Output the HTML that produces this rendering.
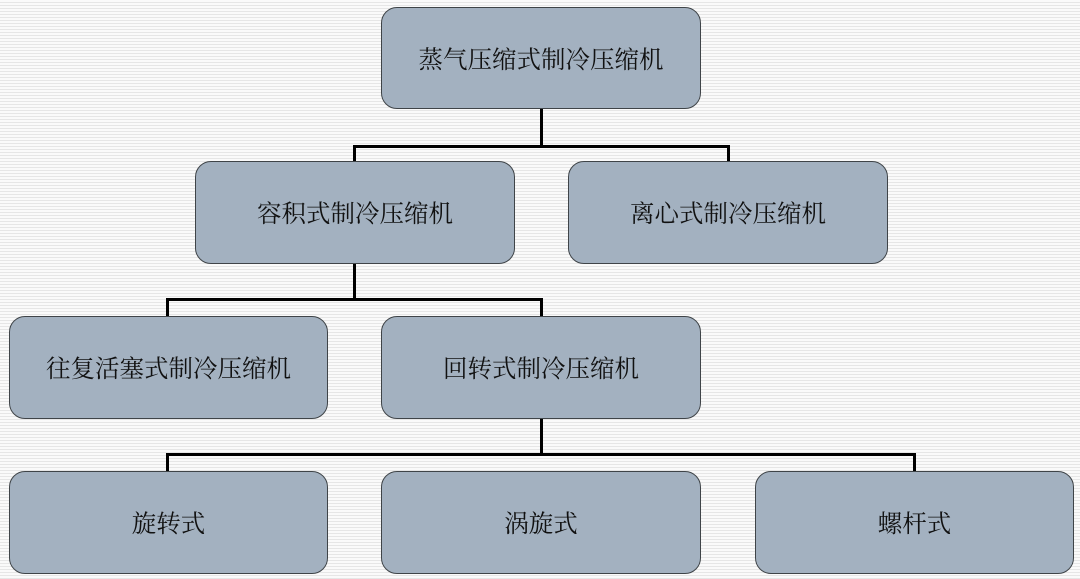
<!DOCTYPE html>
<html><head><meta charset="utf-8"><style>
body{margin:0;width:1080px;height:579px;overflow:hidden;position:relative;
background:repeating-linear-gradient(to bottom,#fafafa 0,#fafafa 2px,#e6e6e6 2px,#e6e6e6 3px);
font-family:"Liberation Serif","Noto Serif CJK SC",serif;}
.b{position:absolute;width:317px;height:100px;background:#a3b1c0;border:1.5px solid #3f4448;border-radius:16px;box-sizing:border-box;display:flex;align-items:center;justify-content:center;font-size:24.5px;color:#111;}
.l{position:absolute;background:#000;}
</style></head><body>
<div class="l" style="left:540px;top:107px;width:3px;height:41px"></div>
<div class="l" style="left:353px;top:145px;width:377px;height:3px"></div>
<div class="l" style="left:353px;top:145px;width:3px;height:17px"></div>
<div class="l" style="left:727px;top:145px;width:3px;height:17px"></div>
<div class="l" style="left:353px;top:262px;width:3px;height:38px"></div>
<div class="l" style="left:166px;top:298px;width:377px;height:3px"></div>
<div class="l" style="left:166px;top:298px;width:3px;height:19px"></div>
<div class="l" style="left:540px;top:298px;width:3px;height:19px"></div>
<div class="l" style="left:540px;top:417px;width:3px;height:38px"></div>
<div class="l" style="left:166px;top:453px;width:750px;height:3px"></div>
<div class="l" style="left:166px;top:453px;width:3px;height:19px"></div>
<div class="l" style="left:913px;top:453px;width:3px;height:19px"></div>
<div class="b" style="left:381px;top:7px;height:102px;width:320px">蒸气压缩式制冷压缩机</div>
<div class="b" style="left:195px;top:161px;height:103px;width:320px">容积式制冷压缩机</div>
<div class="b" style="left:568px;top:161px;height:103px;width:320px">离心式制冷压缩机</div>
<div class="b" style="left:9px;top:316px;height:103px;width:319px">往复活塞式制冷压缩机</div>
<div class="b" style="left:381px;top:316px;height:103px;width:320px">回转式制冷压缩机</div>
<div class="b" style="left:9px;top:471px;height:103px;width:319px">旋转式</div>
<div class="b" style="left:381px;top:471px;height:103px;width:320px">涡旋式</div>
<div class="b" style="left:755px;top:471px;height:103px;width:319px">螺杆式</div>
</body></html>
